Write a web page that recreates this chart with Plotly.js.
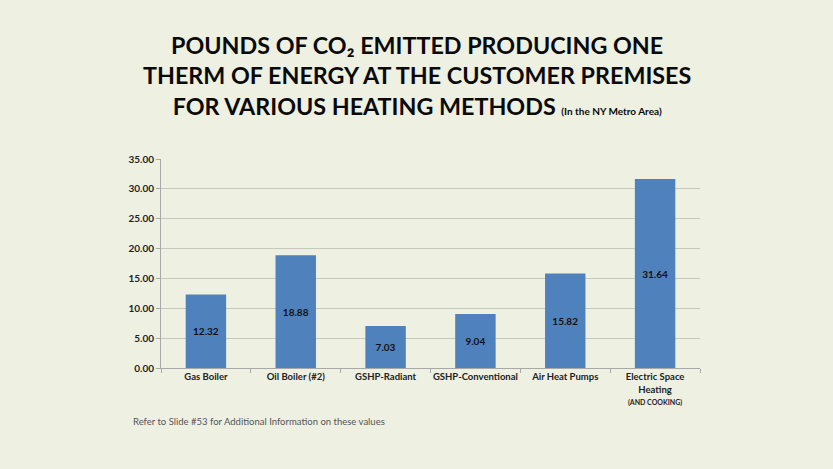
<!DOCTYPE html>
<html><head><meta charset="utf-8">
<script src="https://cdn.plot.ly/plotly-3.0.1.min.js"></script>
<style>html,body{margin:0;padding:0;background:#eef0e2;}#c{width:833px;height:469px;}</style>
</head><body><div id="c"></div>
<script>
var categories = ["Gas Boiler", "Oil Boiler (#2)", "GSHP-Radiant", "GSHP-Conventional", "Air Heat Pumps", "Electric Space<br>Heating<br><span style='font-size:7px'>(AND COOKING)</span>"];
var values = [12.32, 18.88, 7.03, 9.04, 15.82, 31.64];
var tickVals = [0, 5, 10, 15, 20, 25, 30, 35];

var trace = {
  type: "bar",
  x: categories,
  y: values,
  marker: {color: "#4f81bd", line: {width: 0}},
  text: values.map(function(v){return v.toFixed(2);}),
  textposition: "inside",
  insidetextanchor: "middle",
  textfont: {family: "Lato, 'Open Sans', sans-serif", size: 10, color: "#111", weight: "bold"},
  hoverinfo: "none"
};

var layout = {
  width: 833, height: 469,
  paper_bgcolor: "#eef0e2",
  plot_bgcolor: "#eef0e2",
  margin: {l: 161, r: 133, t: 159, b: 101},
  bargap: 0.55,
  showlegend: false,
  font: {family: "Lato, 'Open Sans', sans-serif", color: "#222"},
  xaxis: {
    type: "category",
    tickson: "boundaries",
    tickangle: 0,
    ticks: "outside", ticklen: 4, tickcolor: "#a8a8a8",
    showline: true, linecolor: "#a8a8a8", linewidth: 1,
    tickfont: {size: 9.5, color: "#222", weight: "bold"},
    showgrid: false
  },
  yaxis: {
    range: [0, 35],
    tickvals: tickVals,
    ticktext: tickVals.map(function(v){return v.toFixed(2);}),
    ticks: "outside", ticklen: 4, tickcolor: "#a8a8a8",
    showline: true, linecolor: "#a8a8a8", linewidth: 1,
    gridcolor: "#c6c8be", gridwidth: 1,
    zeroline: false,
    tickfont: {size: 10, color: "#222", weight: "bold"}
  },
  annotations: [
    {
      xref: "paper", yref: "paper", x: 0.475, y: 1, xanchor: "center", yanchor: "bottom",
      yshift: 37,
      text: "POUNDS OF CO₂ EMITTED PRODUCING ONE<br>THERM OF ENERGY AT THE CUSTOMER PREMISES<br>FOR VARIOUS HEATING METHODS <span style='font-size:10px'>(In the NY Metro Area)</span>",
      showarrow: false,
      font: {family: "Lato, 'Open Sans', sans-serif", size: 23.3, color: "#0a0a0a", weight: "bold"}
    },
    {
      xref: "paper", yref: "paper", x: -0.055, y: 0, xanchor: "left", yanchor: "top",
      yshift: -46,
      text: "Refer to Slide #53 for Additional Information on these values",
      showarrow: false,
      font: {family: "Lato, 'Open Sans', sans-serif", size: 9.5, color: "#555"}
    }
  ]
};

Plotly.newPlot("c", [trace], layout, {displayModeBar: false, staticPlot: true});
</script>
</body></html>
